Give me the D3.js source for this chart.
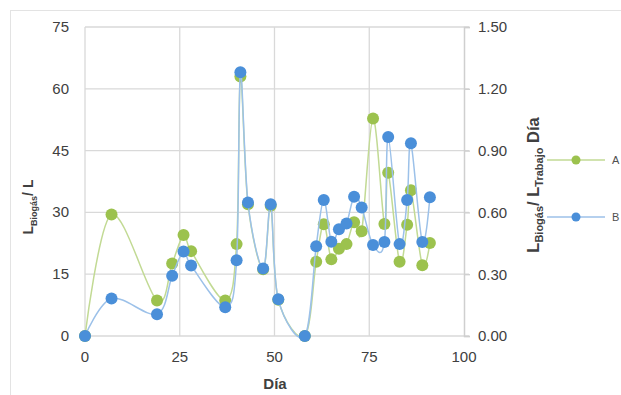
<!DOCTYPE html>
<html>
<head>
<meta charset="utf-8">
<script src="https://cdn.jsdelivr.net/npm/d3@7"></script>
<style>
  body { margin: 0; background: #fff; }
  text { font-family: "Liberation Sans", Arial, sans-serif; }
</style>
</head>
<body>
<div id="chart"></div>
<script>
// data
const days = [0, 7, 19, 23, 26, 28, 37, 40, 41, 43, 47, 49, 51, 58, 61, 63, 65, 67, 69, 71, 73, 76, 79, 80, 83, 85, 86, 89, 91];
const serieA = [0, 29.5, 8.6, 17.6, 24.5, 20.6, 8.6, 22.3, 63, 32, 16.2, 31.6, 8.8, 0, 18, 27.1, 18.6, 21.2, 22.3, 27.6, 25.4, 52.8, 27.2, 39.6, 18, 27, 35.4, 17.2, 22.6];
const serieB = [0, 9.1, 5.3, 14.6, 20.5, 17.1, 7.0, 18.4, 64, 32.4, 16.4, 32, 8.9, 0, 21.8, 33, 22.9, 25.9, 27.3, 33.8, 31.2, 22.1, 22.8, 48.3, 22.3, 33, 46.8, 22.8, 33.7];
const xTicks = [0, 25, 50, 75, 100];
const yLeftTicks = [0, 15, 30, 45, 60, 75];
const yRightTicks = [0, 0.3, 0.6, 0.9, 1.2, 1.5];
const seriesNames = ['A', 'B'];

const width = 621, height = 395;
const colors = { A: { dot: '#9cc24e', line: '#c2da94' }, B: { dot: '#4a8fd9', line: '#9cc1e9' } };

const svg = d3.select('#chart').append('svg')
  .attr('width', width)
  .attr('height', height);

// outer frame
svg.append('rect')
  .attr('x', 10.5).attr('y', 10.5)
  .attr('width', 630).attr('height', 400)
  .attr('fill', 'none')
  .attr('stroke', '#e3e3e3');

const x = d3.scaleLinear().domain([0, 100]).range([85, 464]);
const yL = d3.scaleLinear().domain([0, 75]).range([336, 27]);
const yR = d3.scaleLinear().domain([0, 1.5]).range([336, 27]);

// grid
svg.append('g')
  .selectAll('line.h')
  .data(yLeftTicks)
  .enter().append('line')
  .attr('x1', x(0)).attr('x2', x(100) + 5)
  .attr('y1', d => yL(d)).attr('y2', d => yL(d))
  .attr('stroke', '#d9d9d9').attr('stroke-width', 1.3);

svg.append('g')
  .selectAll('line.v')
  .data(xTicks.slice(0, 4))
  .enter().append('line')
  .attr('x1', d => x(d)).attr('x2', d => x(d))
  .attr('y1', yL(75)).attr('y2', yL(0))
  .attr('stroke', '#d9d9d9').attr('stroke-width', 1.3);

// right axis
const rightAxis = svg.append('g')
  .attr('transform', 'translate(' + x(100) + ',0)')
  .call(d3.axisRight(yR).tickValues(yRightTicks).tickFormat(d3.format('.2f')).tickSize(6).tickPadding(8));
rightAxis.select('.domain').attr('stroke', '#cfcfcf').attr('stroke-width', 1.5);
rightAxis.selectAll('.tick line').attr('stroke', '#cfcfcf').attr('stroke-width', 1.3);
rightAxis.selectAll('text').attr('font-size', 15).attr('fill', '#404040').attr('font-family', '"Liberation Sans", Arial, sans-serif');

// left tick labels
svg.append('g')
  .selectAll('text')
  .data(yLeftTicks)
  .enter().append('text')
  .attr('x', 69).attr('y', d => yL(d) + 5)
  .attr('text-anchor', 'end')
  .attr('font-size', 15).attr('fill', '#404040')
  .text(d => d);

// x tick labels
svg.append('g')
  .selectAll('text')
  .data(xTicks)
  .enter().append('text')
  .attr('x', d => x(d)).attr('y', 362)
  .attr('text-anchor', 'middle')
  .attr('font-size', 15).attr('fill', '#404040')
  .text(d => d);

// axis titles
svg.append('text')
  .attr('x', 275).attr('y', 389)
  .attr('text-anchor', 'middle')
  .attr('font-size', 15).attr('font-weight', 'bold').attr('fill', '#404040')
  .text('Día');

const leftTitle = svg.append('text')
  .attr('transform', 'translate(33,207) rotate(-90)')
  .attr('text-anchor', 'middle')
  .attr('font-size', 14).attr('font-weight', 'bold').attr('fill', '#404040');
leftTitle.append('tspan').text('L');
leftTitle.append('tspan').attr('font-size', 9).attr('dy', 4).text('Biogás');
leftTitle.append('tspan').attr('dy', -4).text('/ L');

const rightTitle = svg.append('text')
  .attr('transform', 'translate(539,185) rotate(-90)')
  .attr('text-anchor', 'middle')
  .attr('font-size', 16.5).attr('font-weight', 'bold').attr('fill', '#404040');
rightTitle.append('tspan').text('L');
rightTitle.append('tspan').attr('font-size', 11).attr('dy', 4).text('Biogás');
rightTitle.append('tspan').attr('dy', -4).text('/ L');
rightTitle.append('tspan').attr('font-size', 11).attr('dy', 4).text('Trabajo');
rightTitle.append('tspan').attr('dy', -4).text(' Día');

// series
const line = d3.line()
  .x(d => x(d[0]))
  .y(d => yL(d[1]))
  .curve(d3.curveCatmullRom.alpha(0));

[serieA, serieB].forEach((vals, i) => {
  const name = seriesNames[i];
  const pts = days.map((d, j) => [d, vals[j]]);
  svg.append('path')
    .datum(pts)
    .attr('d', line)
    .attr('fill', 'none')
    .attr('stroke', colors[name].line)
    .attr('stroke-width', 1.5);
  svg.append('g')
    .selectAll('circle')
    .data(pts)
    .enter().append('circle')
    .attr('cx', d => x(d[0]))
    .attr('cy', d => yL(d[1]))
    .attr('r', 6)
    .attr('fill', colors[name].dot);
});

// legend
const legend = svg.append('g')
  .selectAll('g')
  .data(seriesNames)
  .enter().append('g')
  .attr('transform', (d, i) => 'translate(0,' + (160 + i * 57) + ')');
legend.append('line')
  .attr('x1', 547).attr('x2', 605)
  .attr('stroke', d => colors[d].line).attr('stroke-width', 1.5);
legend.append('circle')
  .attr('cx', 576).attr('r', 4.5)
  .attr('fill', d => colors[d].dot);
legend.append('text')
  .attr('x', 612).attr('y', 4)
  .attr('font-size', 11).attr('fill', '#505050')
  .text(d => d);
</script>
</body>
</html>
